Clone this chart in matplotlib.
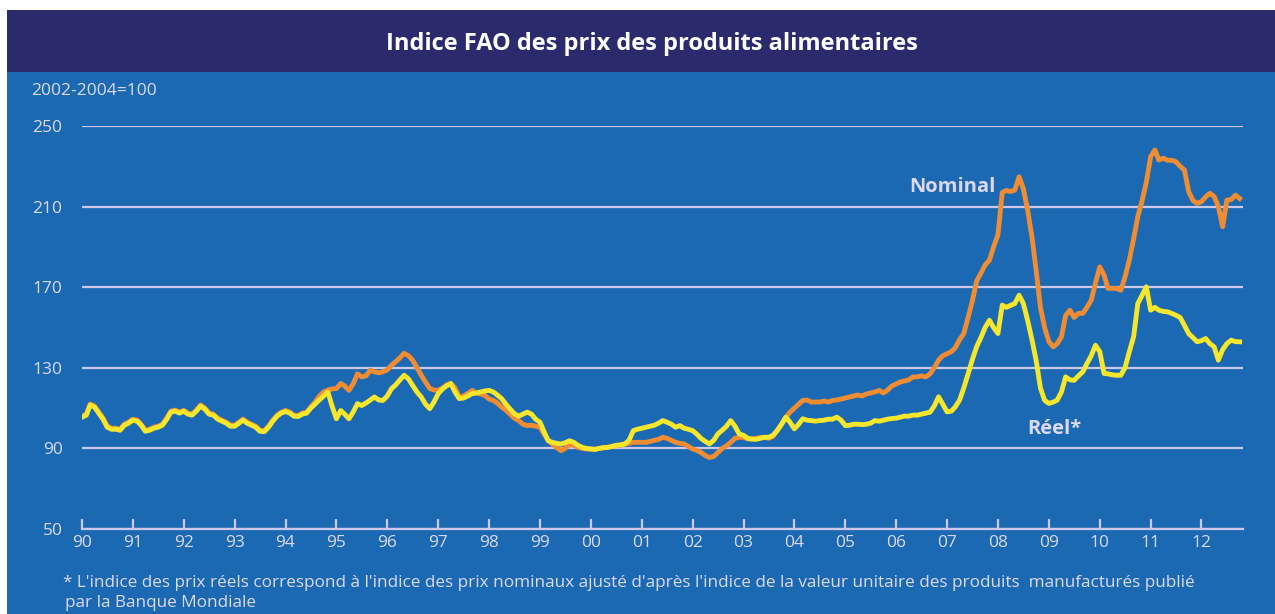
import numpy as np
import pandas as pd
import matplotlib
matplotlib.use("Agg")
import matplotlib.pyplot as plt
from matplotlib.patches import Rectangle

plt.rcParams['font.family'] = ['Open Sans', 'DejaVu Sans']

# FAO food price index, 2002-2004=100, monthly from Jan 1990 to Oct 2012
nominal = [
    106, 107, 112, 111, 108, 105, 101, 100, 100, 99.5, 102, 103,               # 1990
    104.5, 104, 102, 99, 99.5, 100.5, 101, 102, 105, 108.5, 109, 108,          # 1991
    108.8, 107.5, 107, 109, 111.5, 110, 107.5, 107, 105, 104, 103, 101.5,      # 1992
    101.5, 103, 104.5, 103, 102, 101, 99, 98.8, 101, 104, 106.5, 108,          # 1993
    108.8, 108, 106.5, 106.3, 107.5, 108, 110.5, 113, 116, 118, 119, 119.5,    # 1994
    119.7, 122.2, 121, 118.8, 122, 127, 125.5, 126, 128.8, 128, 127.5, 128,    # 1995
    129, 131.3, 133, 135, 137.2, 136, 133.8, 130, 126.3, 123, 119.7, 119,      # 1996
    118.8, 120, 121.5, 122.2, 120, 115.5, 116, 117.2, 118.8, 117.5, 117, 116.3,  # 1997
    114.5, 113.8, 112.5, 110.5, 109, 107, 105, 103.8, 102, 101.3, 101.5, 101,  # 1998
    100.5, 97, 94, 92, 90.5, 88.8, 90, 92, 91.5, 90.5, 90, 89.7,               # 1999
    89.7, 89.5, 90, 90.5, 90.5, 91, 91.5, 91.5, 92.2, 92.5, 93, 93,            # 2000
    93, 93, 93.5, 94, 94.5, 95.5, 95, 94, 93, 92.5, 92.2, 91,                  # 2001
    89.7, 89, 88, 86.5, 85.5, 86, 88, 90, 91.3, 93, 95, 95.5,                  # 2002
    95.5, 94.7, 94.5, 95, 95.5, 95.5, 95, 96, 99, 102, 105.5, 108,             # 2003
    110, 112, 113.8, 114, 113, 113, 113, 113.5, 113, 113.8, 114, 114.5,        # 2004
    115, 115.5, 116, 116.5, 116, 117, 117.5, 118, 118.8, 117.5, 119, 121,      # 2005
    122, 123, 123.5, 124, 125.5, 125.5, 126, 125.5, 127, 130, 133.8, 136,      # 2006
    137, 138, 140, 144, 147, 155, 163, 173, 177, 181, 183.4, 190,              # 2007
    196, 217, 218, 217.5, 218.2, 224.8, 219, 208.3, 195, 178.5, 160, 150,      # 2008
    143, 140.4, 142, 145.4, 156, 158.6, 155, 157, 157, 160, 163.6, 172,        # 2009
    180.1, 176, 169.4, 169.4, 169.4, 168.5, 175, 183.4, 194, 205, 213, 222,    # 2010
    234.8, 238.1, 233.1, 234, 233, 233, 232.3, 230, 228.1, 217.4, 213, 211.6,  # 2011
    212.5, 214.9, 216.6, 215, 210, 200, 213.2, 213.5, 215.7, 214,              # 2012
]

real = [
    105.5, 106.5, 111.5, 110.5, 107.5, 104.5, 100.5, 99.5, 99.5, 99, 101.5, 102.5,  # 1990
    104, 103.5, 101.5, 98.5, 99, 100, 100.5, 101.5, 104.5, 108, 108.5, 107.5,       # 1991
    108.5, 107, 106.5, 108.5, 111, 109.5, 107, 106.5, 104.5, 103.5, 102.5, 101,     # 1992
    101, 102.5, 104, 102.5, 101.5, 100.5, 98.5, 98.3, 100.5, 103.5, 106, 107.5,     # 1993
    108.3, 107.5, 106, 105.8, 107, 107.5, 110, 112, 114, 116, 118, 111,             # 1994
    104.7, 108.8, 107, 104.7, 108, 112.2, 111.3, 112.5, 114, 115.5, 114, 113.8,     # 1995
    116, 119.7, 121.5, 124, 126.3, 124.5, 121.3, 118, 115.5, 112, 109.7, 113,       # 1996
    117.2, 119.5, 121, 122.2, 118, 114.7, 115, 116, 117.2, 117.5, 118, 118.5,       # 1997
    118.8, 118, 116.5, 114.7, 112, 109.5, 107.2, 106, 107, 108, 107, 104.5,         # 1998
    103, 98, 93.8, 93, 92.5, 92.2, 92.8, 93.8, 93, 91.5, 90.5, 90,                  # 1999
    89.7, 89.5, 90, 90.3, 90.5, 91, 91.5, 91.8, 92.2, 94, 98.8, 99.5,               # 2000
    100, 100.5, 101, 101.5, 102.5, 103.8, 103, 102, 100.5, 101.3, 100, 99.5,        # 2001
    98.8, 97, 95, 93.5, 92.2, 94, 97.2, 99, 101, 103.8, 101, 97.2,                  # 2002
    96.5, 95, 94.7, 94.5, 95, 95.5, 95.5, 96.5, 99, 102, 105.5, 103,                # 2003
    99.7, 102, 104.7, 104, 103.8, 103.5, 103.8, 104, 104.5, 104.5, 105.5, 104,      # 2004
    101.3, 101.5, 102, 102, 101.8, 102, 102.5, 103.8, 103.5, 104, 104.5, 104.8,     # 2005
    105, 105.5, 106, 106, 106.5, 106.5, 107, 107.5, 108, 111, 115.6, 112,           # 2006
    108.1, 108.5, 110.6, 114, 120, 127, 134, 140.4, 145, 150, 153.6, 150,           # 2007
    147, 161.1, 160, 161, 161.9, 166, 162, 153.6, 144, 133.8, 120, 113.9,           # 2008
    112.3, 113, 113.9, 118, 125.5, 124, 123.8, 126, 128, 132.1, 136, 141.2,         # 2009
    138, 127.2, 127, 126.5, 126.3, 126.3, 130, 138, 145.4, 161.9, 166, 170.2,       # 2010
    158.6, 160, 158.6, 158, 157.8, 157, 156.1, 155, 151, 147, 145, 142.9,           # 2011
    143.5, 144.5, 142, 140.4, 133.8, 139, 142, 143.7, 143, 142.9,                   # 2012
]

months = pd.date_range("1990-01-01", periods=len(nominal), freq="MS")
years = list(range(1990, 2013))
year_labels = [str(y)[2:] for y in years]
y_ticks = [50, 90, 130, 170, 210, 250]

BLUE = "#1c69b3"
NAVY = "#2a2a6c"
LAV = "#cdc8ea"
TXT = "#dcd8f0"

fig = plt.figure(figsize=(12.75, 6.14), dpi=100, facecolor="white")
W, H = 1275, 614
fig.patches.append(Rectangle((7 / W, 0), 1, 1 - 10 / H, transform=fig.transFigure,
                             facecolor=BLUE, edgecolor="none", zorder=-2))
fig.patches.append(Rectangle((7 / W, 1 - 72 / H), 1, 62 / H, transform=fig.transFigure,
                             facecolor=NAVY, edgecolor="none", zorder=-1))

ax = fig.add_axes([82 / W, 1 - 529 / H, (1243 - 82) / W, (529 - 126) / H])
ax.set_facecolor("none")

ax.plot(months, nominal, color="#f08c32", lw=3.5, solid_joinstyle="round", zorder=3)
ax.plot(months, real, color="#f6e62c", lw=3.5, solid_joinstyle="round", zorder=4)

ax.set_ylim(50, 250)
ax.set_xlim(pd.Timestamp("1990-01-01"), pd.Timestamp("2012-10-25"))
ax.set_yticks(y_ticks)
ax.set_yticklabels([str(v) for v in y_ticks], color=TXT, fontsize=12.5)
ax.yaxis.grid(True, color=LAV, lw=1.6)
ax.set_axisbelow(True)

ax.set_xticks([pd.Timestamp(f"{y}-01-01") for y in years])
ax.set_xticklabels(year_labels, color=TXT, fontsize=12.5)
ax.tick_params(axis="x", direction="in", length=7, width=1.6, color=LAV, pad=4)
ax.tick_params(axis="y", length=0, pad=14)

for s in ["top", "right", "left"]:
    ax.spines[s].set_visible(False)
ax.spines["bottom"].set_color(LAV)
ax.spines["bottom"].set_linewidth(1.6)

ax.text(pd.Timestamp("2006-04-01"), 219.5, "Nominal", color=TXT, fontsize=14.5,
        fontweight="bold", va="center", zorder=5)
ax.text(pd.Timestamp("2008-08-01"), 99.5, "Réel*", color=TXT, fontsize=14.5,
        fontweight="bold", va="center", zorder=5)

fig.text(652 / W, 1 - 44 / H, "Indice FAO des prix des produits alimentaires",
         ha="center", va="center", color="white", fontsize=17, fontweight="bold")
fig.text(31 / W, 1 - 91 / H, "2002-2004=100", ha="left", va="center",
         color=TXT, fontsize=12.5)
fig.text(63 / W, 1 - 583 / H,
         "* L'indice des prix réels correspond à l'indice des prix nominaux ajusté d'après "
         "l'indice de la valeur unitaire des produits  manufacturés publié",
         ha="left", va="center", color=TXT, fontsize=12.3)
fig.text(65 / W, 1 - 603 / H, "par la Banque Mondiale", ha="left", va="center",
         color=TXT, fontsize=12.3)

fig.savefig("out.png", dpi=100, facecolor=fig.get_facecolor())
